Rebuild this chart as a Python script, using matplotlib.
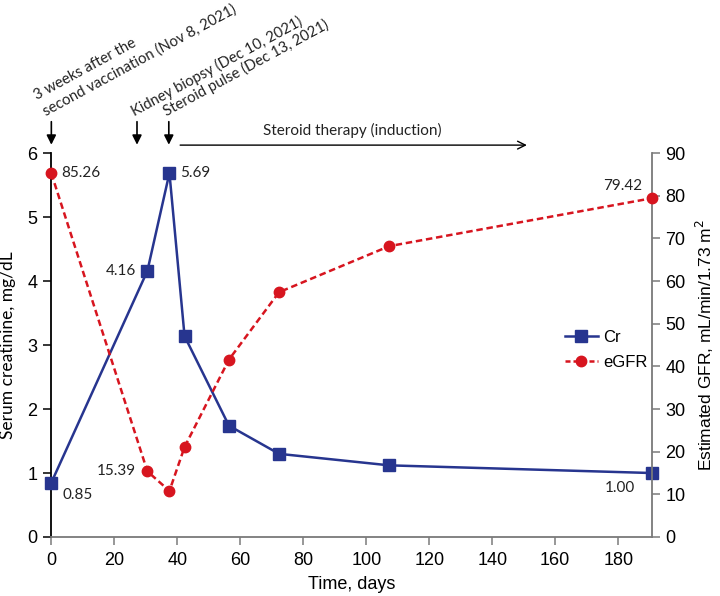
import math
import matplotlib
matplotlib.use("Agg")
import matplotlib.pyplot as plt
from matplotlib.lines import Line2D

# ---- data ----
days = [0, 30.5, 37.5, 42.3, 56.4, 72.3, 107.3, 190.6]
cr = [0.85, 4.16, 5.69, 3.14, 1.74, 1.30, 1.12, 1.00]
egfr = [85.26, 15.39, 10.8, 21.1, 41.6, 57.4, 68.2, 79.42]
x_ticks = [0, 20, 40, 60, 80, 100, 120, 140, 160, 180]
left_ticks = [0, 1, 2, 3, 4, 5, 6]
right_ticks = [0, 10, 20, 30, 40, 50, 60, 70, 80, 90]
event_days = [0, 27.2, 37.3]
event_texts = [["second vaccination (Nov 8, 2021)", "3 weeks after the"],
               ["Kidney biopsy (Dec 10, 2021)"],
               ["Steroid pulse (Dec 13, 2021)"]]
event_text_x = [-1.4, 27.0, 37.0]
therapy_span = [40.9, 151]

BLUE = "#27358f"
RED = "#d7151f"
GRAY = "#7a7a7a"
TICKFONT = ["Liberation Sans", "DejaVu Sans"]
TXTFONT = ["Lato", "DejaVu Sans"]

fig = plt.figure(figsize=(7.2, 5.96), dpi=100)
ax = fig.add_axes([0.0713, 0.099, 0.8337, 0.644])
ax2 = ax.twinx()

ax.plot(days, cr, color=BLUE, lw=1.8, marker="s", ms=8, zorder=3, clip_on=False)
ax2.plot(days, egfr, color=RED, lw=1.8, ls=(0, (2.6, 1.5)), marker="o", ms=7.5,
         zorder=3, clip_on=False)

ax.set_xlim(0, days[-1])
ax.set_ylim(0, 6)
ax2.set_ylim(0, 90)
ax.set_xticks(x_ticks)
ax.set_yticks(left_ticks)
ax2.set_yticks(right_ticks)

for a in (ax, ax2):
    a.spines["top"].set_visible(False)
ax.spines["left"].set_color("black")
ax.spines["bottom"].set_color(GRAY)
ax2.spines["right"].set_color(GRAY)
ax2.spines["left"].set_visible(False)
ax2.spines["bottom"].set_visible(False)
ax.spines["right"].set_visible(False)
for s in ("left", "bottom"):
    ax.spines[s].set_linewidth(1.3)
ax2.spines["right"].set_linewidth(1.3)

ax.tick_params(axis="y", direction="out", length=6, width=1.1, colors="black",
               labelsize=13, pad=4)
ax.tick_params(axis="x", direction="out", length=6, width=1.1, color=GRAY,
               labelcolor="black", labelsize=13, pad=5)
ax2.tick_params(axis="y", direction="out", length=6, width=1.1, color=GRAY,
                labelcolor="black", labelsize=13, pad=4)
for lab in ax.get_xticklabels() + ax.get_yticklabels() + ax2.get_yticklabels():
    lab.set_fontfamily(TICKFONT)

ax.set_xlabel("Time, days", fontsize=13, family=TICKFONT, labelpad=5)
ax.set_ylabel("Serum creatinine, mg/dL", fontsize=12.5, family=TXTFONT, labelpad=8)
ax2.set_ylabel("Estimated GFR, mL/min/1.73 m$^2$", fontsize=12.5, family=TICKFONT,
               labelpad=6)

# data labels
lab_kw = dict(fontsize=11, family=TXTFONT, color="#222222")
ax2.annotate("85.26", (days[0], egfr[0]), xytext=(7, 0), textcoords="offset points",
             ha="left", va="center", **lab_kw)
ax.annotate("5.69", (days[2], cr[2]), xytext=(8, 0), textcoords="offset points",
            ha="left", va="center", **lab_kw)
ax.annotate("4.16", (days[1], cr[1]), xytext=(-8, 0), textcoords="offset points",
            ha="right", va="center", **lab_kw)
ax.annotate("0.85", (days[0], cr[0]), xytext=(8, -4), textcoords="offset points",
            ha="left", va="top", **lab_kw)
ax2.annotate("15.39", (days[1], egfr[1]), xytext=(-8, 0), textcoords="offset points",
             ha="right", va="center", **lab_kw)
ax.annotate("1.00", (days[-1], cr[-1]), xytext=(-12, -6), textcoords="offset points",
            ha="right", va="top", **lab_kw)
ax2.annotate("79.42", (days[-1], egfr[-1]), xytext=(-7, 9), textcoords="offset points",
             ha="right", va="center", **lab_kw)

# event arrows
for d in event_days:
    ax.annotate("", xy=(d, 1.022), xycoords=("data", "axes fraction"),
                xytext=(d, 1.082), textcoords=("data", "axes fraction"),
                arrowprops=dict(arrowstyle="-|>", color="black", lw=1.2,
                                mutation_scale=14, shrinkA=0, shrinkB=0),
                annotation_clip=False)
ROT = 28.5
FS = 10.7
step = 1.2 * FS
for tx, lines in zip(event_text_x, event_texts):
    for i, line in enumerate(lines):
        off = (-math.sin(math.radians(ROT)) * step * i,
               math.cos(math.radians(ROT)) * step * i)
        ax.annotate(line, (tx, 1.09), xycoords=ax.get_xaxis_transform(),
                    xytext=off, textcoords="offset points", rotation=ROT,
                    rotation_mode="anchor", ha="left", va="bottom", fontsize=FS,
                    family=TXTFONT, color="#222222", annotation_clip=False)

ax.annotate("", xy=(therapy_span[1], 1.021), xycoords=("data", "axes fraction"),
            xytext=(therapy_span[0], 1.021), textcoords=("data", "axes fraction"),
            arrowprops=dict(arrowstyle="->", color="black", lw=1.0,
                            mutation_scale=14, shrinkA=0, shrinkB=0),
            annotation_clip=False)
ax.text(95.5, 1.06, "Steroid therapy (induction)", transform=ax.get_xaxis_transform(),
        ha="center", va="center", fontsize=11, family=TXTFONT, color="#222222")

# legend
handles = [Line2D([], [], color=BLUE, lw=1.8, marker="s", ms=8),
           Line2D([], [], color=RED, lw=1.8, ls=(0, (2, 1.2)), marker="o", ms=7.5)]
leg = ax2.legend(handles, ["Cr", "eGFR"], loc="center left",
                 bbox_to_anchor=(0.83, 0.488), frameon=False,
                 handlelength=2.0, handletextpad=0.3, labelspacing=0.6,
                 prop={"family": TICKFONT, "size": 12})

fig.savefig("out.png", dpi=100)
